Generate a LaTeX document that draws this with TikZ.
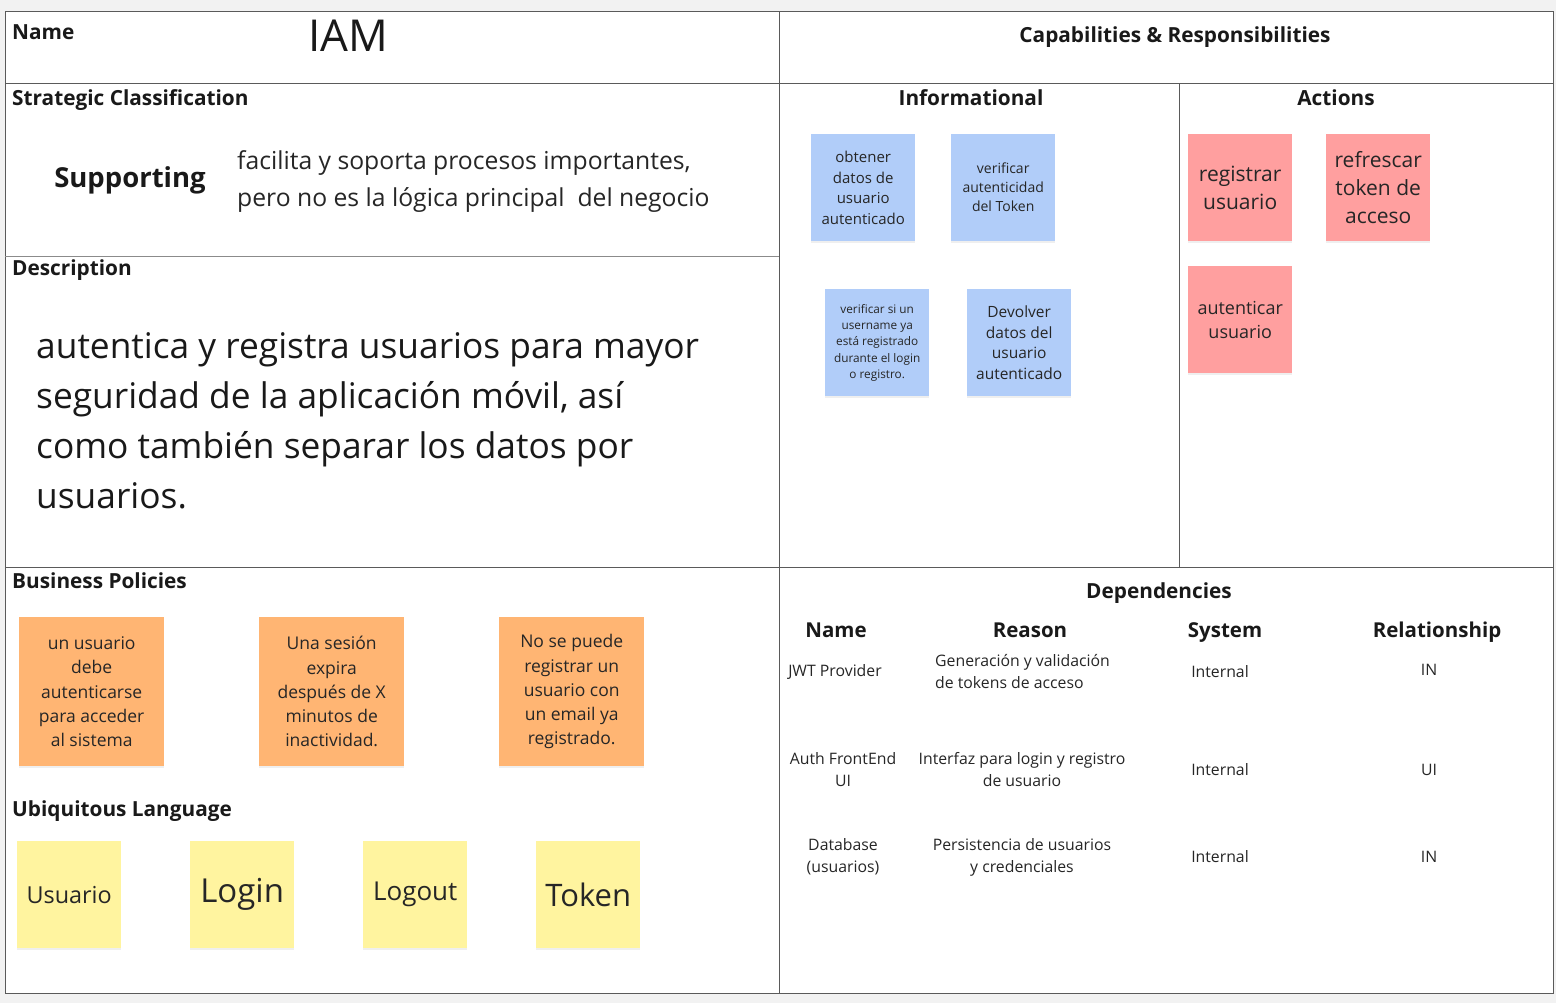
\documentclass[tikz,border=0pt]{standalone}
\usepackage{fontspec}
\setmainfont{Open Sans}
\usetikzlibrary{shadows}
\definecolor{bluenote}{HTML}{B1CDF9}
\definecolor{rednote}{HTML}{FF9F9F}
\definecolor{orangenote}{HTML}{FFB573}
\definecolor{yellownote}{HTML}{FFF49F}
\definecolor{gridline}{HTML}{5A5A5A}
\definecolor{pagebg}{HTML}{F2F2F2}
\newcommand\fsz[2]{\fontsize{#1}{#2}\selectfont}
\begin{document}
\begin{tikzpicture}[x=1pt,y=-1pt,
  note/.style={anchor=north west,minimum width=104pt,minimum height=107pt,inner sep=2pt,align=center,text=black!85,
    drop shadow={shadow xshift=0pt,shadow yshift=-2pt,opacity=.12}},
  bignote/.style={note,minimum width=145pt,minimum height=149pt},
  head/.style={font=\bfseries\fsz{20.8}{25},inner sep=0pt,text height=20pt,text depth=4pt,text=black!90},
  colhead/.style={font=\bfseries\fsz{20.5}{24},inner sep=0pt,text height=20pt,text depth=4pt,text=black!90},
  cell/.style={font=\fsz{15.8}{22},inner sep=0pt,align=center,text=black!85}]
\useasboundingbox (0,0) rectangle (1556,1003);
\fill[pagebg] (0,0) rectangle (1556,1003);
\filldraw[fill=white,draw=gridline,line width=1pt] (5,12) rectangle (1553,993);
% grid of the canvas
\draw[gridline,line width=1pt] (779,12) -- (779,993)
  (5,84) -- (1553,84)
  (5,567) -- (1553,567)
  (1179,84) -- (1179,567);
\draw[gridline!70,line width=1pt] (5,257) -- (779,257);
% name and classification
\path (12,32) node[head,anchor=west](lname){Name}
      (348,36) node[inner sep=0pt,font=\fsz{44}{50},text=black!90](iam){IAM}
      (1175,35) node[head](lcap){Capabilities \& Responsibilities}
      (12,98) node[head,anchor=west](lstrat){Strategic Classification}
      (130,180) node[inner sep=0pt,font=\bfseries\fsz{27.5}{32},text=black!90](supp){Supporting}
      (237,182) node[anchor=west,inner sep=0pt,align=left,font=\fsz{24.7}{37},text=black!85](suppdesc)
        {facilita y soporta procesos importantes,\\pero no es la lógica principal\ \ del negocio}
      (12,268) node[head,anchor=west](ldesc){Description}
      (36,421) node[anchor=west,inner sep=0pt,align=left,font=\fsz{35.3}{50},text=black!90](desc)
        {autentica y registra usuarios para mayor\\seguridad de la aplicación móvil, así\\como también separar los datos por\\usuarios.};
% capabilities
\path (971,98) node[head](linfo){Informational}
      (1336,98) node[head](lact){Actions};
\path (811,134) node[note,fill=bluenote,font=\fsz{15}{20.5}](inf1){obtener\\datos de\\usuario\\autenticado}
      (951,134) node[note,fill=bluenote,font=\fsz{14}{19}](inf2){verificar\\autenticidad\\del Token}
      (825,289) node[note,fill=bluenote,font=\fsz{11.8}{16.3}](inf3){verificar si un\\username ya\\está registrado\\durante el login\\o registro.}
      (967,289) node[note,fill=bluenote,font=\fsz{15.5}{20.7}](inf4){Devolver\\datos del\\usuario\\autenticado};
\path (1188,134) node[note,fill=rednote,font=\fsz{21}{28}](act1){registrar\\usuario}
      (1326,134) node[note,fill=rednote,font=\fsz{21}{28}](act2){refrescar\\token de\\acceso}
      (1188,266) node[note,fill=rednote,font=\fsz{18}{24}](act3){autenticar\\usuario};
% business policies
\path (12,580) node[head,anchor=west](lpol){Business Policies}
      (19,617) node[bignote,fill=orangenote,font=\fsz{17.5}{24.2}](pol1){un usuario\\debe\\autenticarse\\para acceder\\al sistema}
      (259,617) node[bignote,fill=orangenote,font=\fsz{17.5}{24.2}](pol2){Una sesión\\expira\\después de X\\minutos de\\inactividad.}
      (499,617) node[bignote,fill=orangenote,font=\fsz{17.5}{24.2}](pol3){No se puede\\registrar un\\usuario con\\un email ya\\registrado.};
% ubiquitous language
\path (12,808) node[head,anchor=west](lubi){Ubiquitous Language}
      (17,841) node[note,fill=yellownote,font=\fsz{23.4}{28}](ul1){Usuario}
      (190,841) node[note,fill=yellownote,font=\fsz{33}{38}](ul2){Login}
      (363,841) node[note,fill=yellownote,font=\fsz{26}{30}](ul3){Logout}
      (536,841) node[note,fill=yellownote,font=\fsz{31}{36}](ul4){Token};
% dependencies
\path (1159,590) node[head](ldep){Dependencies}
      (836,629) node[colhead](hname){Name}
      (1030,629) node[colhead](hreason){Reason}
      (1225,629) node[colhead](hsys){System}
      (1437,629) node[colhead](hrel){Relationship};
\path (835,672) node[cell](d1name){JWT Provider}
      (935,672) node[cell,anchor=west,align=left](d1reason){Generación y validación\\de tokens de acceso}
      (1220,672) node[cell](d1sys){Internal}
      (1429,670) node[cell](d1rel){IN}
      (843,770) node[cell](d2name){Auth FrontEnd\\UI}
      (1022,770) node[cell](d2reason){Interfaz para login y registro\\de usuario}
      (1220,770) node[cell](d2sys){Internal}
      (1429,770) node[cell](d2rel){UI}
      (843,857) node[cell](d3name){Database\\(usuarios)}
      (1022,857) node[cell](d3reason){Persistencia de usuarios\\y credenciales}
      (1220,857) node[cell](d3sys){Internal}
      (1429,857) node[cell](d3rel){IN};
\end{tikzpicture}
\end{document}
